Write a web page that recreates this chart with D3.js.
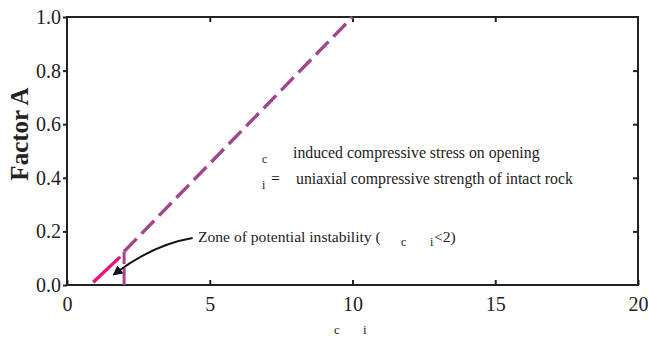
<!DOCTYPE html>
<html>
<head>
<meta charset="utf-8">
<script src="https://cdn.jsdelivr.net/npm/d3@7"></script>
<style>
  body { margin: 0; background: #fff; }
  text { font-family: "Liberation Serif", "Times New Roman", serif; fill: #222; }
</style>
</head>
<body>
<div></div>
<script>
const width = 648
const height = 338

// data
const xTicks = [0, 5, 10, 15, 20]
const yTicks = [0.0, 0.2, 0.4, 0.6, 0.8, 1.0]
const lowZone = [[0.92, 0.01], [1.86, 0.105]]       // pink segment
const midZone = [[2, 0.125], [10, 1.0]]             // purple dashed
const stepLine = [[2, 0.0], [2, 0.125]]             // vertical at ratio 2
const arrowFrom = [4.4, 0.175]
const arrowVia = [3.0, 0.15]
const arrowTo = [1.65, 0.04]

const xScale = d3.scaleLinear().domain([0, 20]).range([67, 638])
const yScale = d3.scaleLinear().domain([0, 1]).range([285, 17])

const svg = d3.select("div")
    .append("svg")
    .attr("width", width)
    .attr("height", height)

const line = d3.line().x(d => xScale(d[0])).y(d => yScale(d[1]))

// frame
svg.append("rect")
    .attr("x", xScale(0)).attr("y", yScale(1))
    .attr("width", xScale(20) - xScale(0))
    .attr("height", yScale(0) - yScale(1))
    .attr("fill", "none").attr("stroke", "#222").attr("stroke-width", 2)

// bottom axis, ticks inward
const xAxis = svg.append("g")
    .attr("transform", `translate(0,${yScale(0)})`)
    .call(d3.axisBottom(xScale).tickValues(xTicks).tickSize(-5).tickPadding(12).tickFormat(d3.format("d")))
xAxis.select(".domain").remove()
xAxis.selectAll("line").attr("stroke", "#222").attr("stroke-width", 2)
xAxis.selectAll("text").attr("font-size", 20).attr("fill", "#222")

// top ticks
svg.append("g")
    .attr("transform", `translate(0,${yScale(1)})`)
    .call(d3.axisTop(xScale).tickValues(xTicks.slice(1, -1)).tickSize(-5).tickFormat(""))
    .call(g => g.select(".domain").remove())
    .selectAll("line").attr("stroke", "#222").attr("stroke-width", 2)

// left axis, ticks outward
const yAxis = svg.append("g")
    .attr("transform", `translate(${xScale(0)},0)`)
    .call(d3.axisLeft(yScale).tickValues(yTicks).tickSize(4).tickPadding(2).tickFormat(d3.format(".1f")))
yAxis.select(".domain").remove()
yAxis.selectAll("line").attr("stroke", "#222").attr("stroke-width", 2)
yAxis.selectAll("text").attr("font-size", 20).attr("fill", "#222")

// right ticks, inward
svg.append("g")
    .attr("transform", `translate(${xScale(20)},0)`)
    .call(d3.axisRight(yScale).tickValues(yTicks.slice(1, -1)).tickSize(-5).tickFormat(""))
    .call(g => g.select(".domain").remove())
    .selectAll("line").attr("stroke", "#222").attr("stroke-width", 2)

// axis titles
svg.append("text")
    .attr("transform", `translate(28,134) rotate(-90)`)
    .attr("text-anchor", "middle")
    .attr("font-size", 25).attr("font-weight", "bold")
    .text("Factor A")

svg.append("text").attr("x", 334).attr("y", 334).attr("font-size", 13).text("c")
svg.append("text").attr("x", 363).attr("y", 334).attr("font-size", 13).text("i")

// lines
svg.append("path").datum(stepLine)
    .attr("d", line).attr("fill", "none")
    .attr("stroke", "#a3448e").attr("stroke-width", 3)
    .attr("stroke-dasharray", "17,4")
svg.append("path").datum(lowZone)
    .attr("d", line).attr("fill", "none")
    .attr("stroke", "#e8127c").attr("stroke-width", 3.4)
svg.append("path").datum(midZone)
    .attr("d", line).attr("fill", "none")
    .attr("stroke", "#a3448e").attr("stroke-width", 3.4)
    .attr("stroke-dasharray", "18,7")

// annotation arrow
svg.append("defs").append("marker")
    .attr("id", "head").attr("viewBox", "0 0 10 10")
    .attr("refX", 8).attr("refY", 5)
    .attr("markerWidth", 5).attr("markerHeight", 5)
    .attr("orient", "auto")
    .append("path").attr("d", "M0,0 L10,5 L0,10 z").attr("fill", "#111")

svg.append("path")
    .attr("d", `M${xScale(arrowFrom[0])},${yScale(arrowFrom[1])} Q${xScale(arrowVia[0])},${yScale(arrowVia[1])} ${xScale(arrowTo[0])},${yScale(arrowTo[1])}`)
    .attr("fill", "none").attr("stroke", "#111").attr("stroke-width", 2)
    .attr("marker-end", "url(#head)")

svg.append("text").attr("x", 198).attr("y", 242).attr("font-size", 15.6)
    .text("Zone of potential instability (")
svg.append("text").attr("x", 401).attr("y", 246).attr("font-size", 12).text("c")
svg.append("text").attr("x", 430).attr("y", 246).attr("font-size", 12).text("i")
svg.append("text").attr("x", 434).attr("y", 242).attr("font-size", 15.6).text("<2)")

// definitions
svg.append("text").attr("x", 262).attr("y", 163).attr("font-size", 12).text("c")
svg.append("text").attr("x", 293).attr("y", 158).attr("font-size", 15.8)
    .text("induced compressive stress on opening")
svg.append("text").attr("x", 262).attr("y", 189).attr("font-size", 12).text("i")
svg.append("text").attr("x", 271).attr("y", 184).attr("font-size", 15.8).text("=")
svg.append("text").attr("x", 296).attr("y", 184).attr("font-size", 15.8)
    .text("uniaxial compressive strength of intact rock")
</script>
</body>
</html>
